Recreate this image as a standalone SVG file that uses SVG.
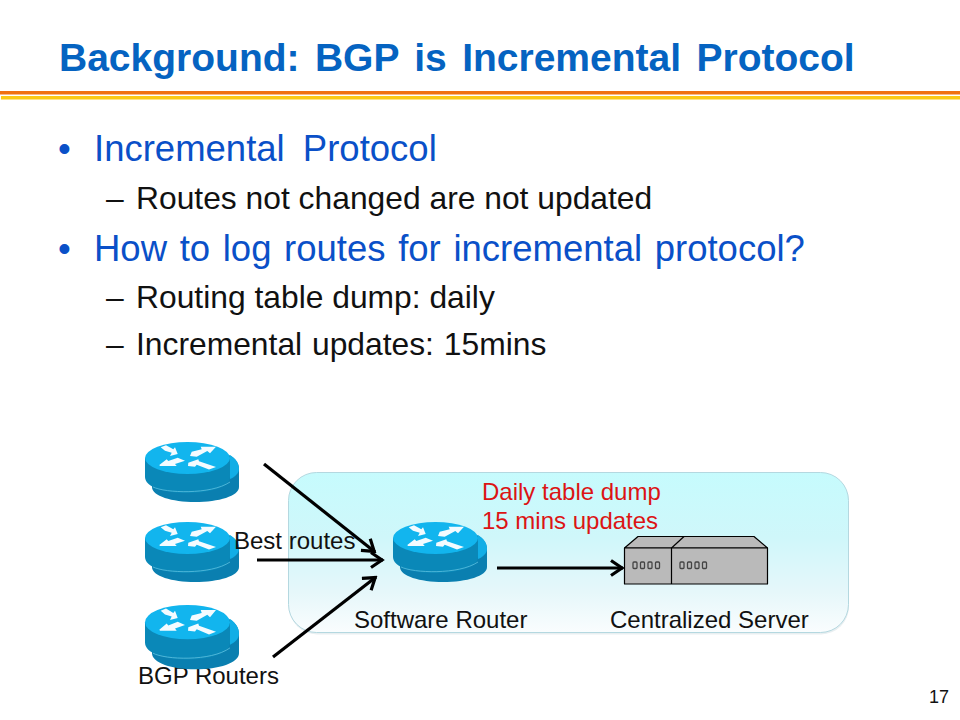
<svg xmlns="http://www.w3.org/2000/svg" width="960" height="720" viewBox="0 0 960 720">
<style>
text{font-family:"Liberation Sans",Arial,sans-serif}
.title{font-size:39px;font-weight:bold;fill:#0563c1;word-spacing:4.6px}
.h1{font-size:36.5px;fill:#0a50c8}
.h2{font-size:31.8px;fill:#111}
.lbl{font-size:24px;fill:#111}
.red{font-size:24px;fill:#dc1414}
.conn{fill:none;stroke:#000;stroke-width:3.2;marker-end:url(#arrow)}
.sv{fill:#bababa;stroke:#000;stroke-width:1.2;stroke-linejoin:round}
.led{fill:none;stroke:#444;stroke-width:1.3}
.wh{fill:#f4fbff}
</style>
<defs>
<linearGradient id="panel" x1="0" y1="0" x2="0" y2="1">
<stop offset="0" stop-color="#c6fbfd"/><stop offset="0.4" stop-color="#cff7fa"/><stop offset="0.75" stop-color="#e6f7fa"/><stop offset="1" stop-color="#fafdfe"/>
</linearGradient>
<marker id="arrow" viewBox="0 0 16 18" refX="14" refY="9" markerWidth="16" markerHeight="18" markerUnits="userSpaceOnUse" orient="auto">
<path d="M2 1.500 L13 9 L2 16.500" fill="none" stroke="#000" stroke-width="3.200"/>
</marker>
<g id="router">
<path d="M7 30 V46 C7 55 27 61 50 61 C74 61 94 55 94 46 V28 C94 22 90 17 84 14 L40 30 Z" fill="#0a7fb0"/>
<path d="M85 14 C91 18 94 22 94 28 C94 32 90 36 85 38 Z" fill="#12aee6"/>
<path d="M0 17 V36 C0 46 19 52 42 52 C66 52 85 46 85 36 V17 Z" fill="#0a88b8"/>
<path d="M8 46 C20 52 66 54 85 41" fill="none" stroke="#5cc0e0" stroke-width="0.8"/>
<ellipse cx="42.500" cy="17" rx="42.500" ry="16" fill="#12b5ee"/>
<path class="wh" d="M15.700 6.300 L21 4.300 L28.300 8.300 L30 6.300 L32.700 13 L25 15 L26.700 11.700 L20 9.700 Z"/>
<path class="wh" d="M46.700 10.700 L56.700 8.300 L55.700 5.700 L71 5.700 L65 12.300 L62.300 10 L51.700 15.700 L45 15 Z"/>
<path class="wh" d="M14.300 24 L21.700 18.300 L23.300 20 L32.700 16.700 L40 19.700 L30 23 L31.700 25 L15 25 Z"/>
<path class="wh" d="M43.300 21.700 L53.300 18.300 L54 20.300 L71 26 L64 28.500 L51.700 23.700 L50 25.700 L43 25 Z"/>
</g>
<g id="leds">
<rect x="0" y="0" width="4" height="6.500" rx="1" class="led"/><rect x="7.500" y="0" width="4" height="6.500" rx="1" class="led"/><rect x="15" y="0" width="4" height="6.500" rx="1" class="led"/><rect x="22.500" y="0" width="4" height="6.500" rx="1" class="led"/>
</g>
</defs>
<rect width="960" height="720" fill="#fff"/>
<g id="header">
<text class="title" x="59" y="71">Background: BGP is Incremental Protocol</text>
<rect x="0" y="91" width="960" height="3.500" fill="#f07010"/>
<rect x="1" y="96" width="959" height="3.500" fill="#fbc814"/>
</g>
<g id="body">
<text class="h1" x="58" y="161">•</text>
<text class="h1" x="94" y="161" word-spacing="8">Incremental Protocol</text>
<text class="h2" x="106" y="209">–</text>
<text class="h2" x="136" y="209">Routes not changed are not updated</text>
<text class="h1" x="58" y="261">•</text>
<text class="h1" x="94" y="261" word-spacing="2.500">How to log routes for incremental protocol?</text>
<text class="h2" x="106" y="308">–</text>
<text class="h2" x="136" y="308">Routing table dump: daily</text>
<text class="h2" x="106" y="355">–</text>
<text class="h2" x="136" y="355" word-spacing="1">Incremental updates: 15mins</text>
</g>
<g id="panel-node">
<rect x="289" y="474.500" width="560" height="160" rx="28" fill="#e9eff1"/>
<rect x="288.500" y="472.500" width="560" height="160" rx="28" fill="url(#panel)" stroke="#b4d8e0" stroke-width="1"/>
</g>
<g id="router-1"><use href="#router" x="145" y="441"/></g>
<g id="router-2"><use href="#router" x="145" y="521"/></g>
<g id="router-3">
<text class="lbl" x="138" y="684">BGP Routers</text>
<use href="#router" transform="translate(145 604) scale(1 1.07)"/>
</g>
<g id="software-router"><use href="#router" x="393" y="521"/><text class="lbl" x="354" y="628">Software Router</text></g>
<g id="server">
<path class="sv" d="M624.500 548 L638 536.500 L754 536.500 L767.500 548 Z"/>
<path class="sv" d="M671.500 548 L684 536.500" fill="none"/>
<rect class="sv" x="624.500" y="548" width="143" height="36"/>
<path class="sv" d="M671.500 548 V584" fill="none"/>
<use href="#leds" x="633" y="562"/><use href="#leds" x="680" y="562"/>
<text class="lbl" x="610" y="628">Centralized Server</text>
</g>
<g id="connectors">
<path class="conn" d="M264 464 L375 552"/>
<path class="conn" d="M257 560 L383 560"/>
<path class="conn" d="M273 657 L376 577"/>
<path class="conn" d="M497 568 L623 568"/>
</g>
<g id="labels">
<text class="red" x="482" y="500">Daily table dump</text>
<text class="red" x="482" y="529">15 mins updates</text>
<text class="lbl" x="234" y="549">Best routes</text>
<text x="929" y="703" font-size="18" fill="#111">17</text>
</g>
</svg>
